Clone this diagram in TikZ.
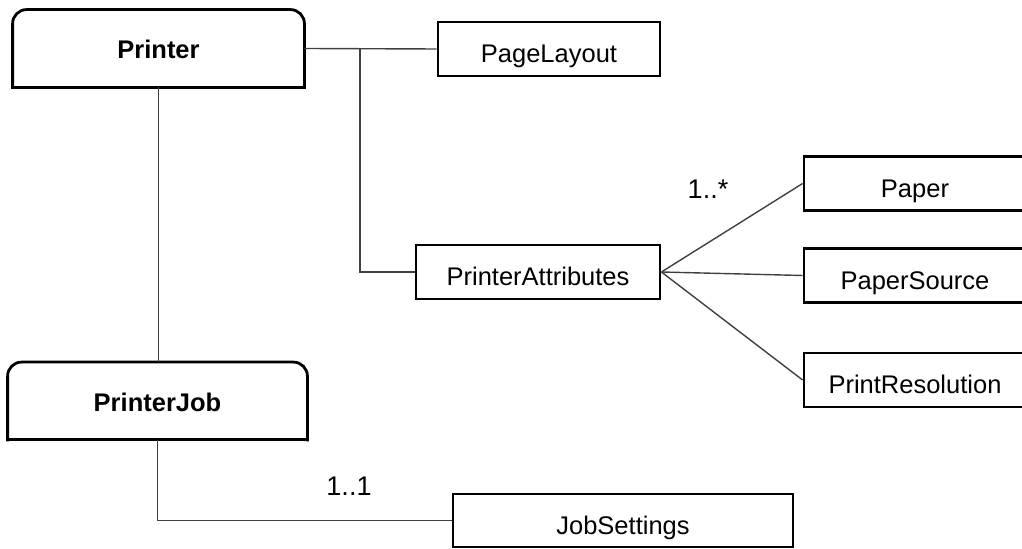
\documentclass[tikz,border=0pt]{standalone}
\usepackage{fontspec}
\setmainfont{Liberation Sans}
\usepackage{tikz}
\usetikzlibrary{positioning}
\tikzstyle{box}=[draw=black, line width=1.4pt, fill=white, inner sep=0pt,
        font=\fontsize{12.75}{15}\selectfont, minimum height=27pt,
        text height=13.6pt, text depth=0pt]
\tikzstyle{top}=[inner sep=0pt, font=\fontsize{12.75}{15}\selectfont\bfseries,
        minimum height=38.5pt, text height=10.5pt, text depth=0pt]
\tikzstyle{link}=[draw=black!75, line width=0.7pt]
\tikzstyle{mult}=[inner sep=0pt, font=\fontsize{13.5}{16}\selectfont]

\begin{document}
\begin{tikzpicture}[x=0.5pt, y=-0.5pt]
    \useasboundingbox (0,0) rectangle (1022,549);
    \clip (0,0) rectangle (1022,549);

        \node[top, minimum width=145.5pt] (1) at (158.5, 48.5) {Printer};
        \node[top, minimum width=149.5pt] (7) at (157.5, 401) {PrinterJob};

        \node[box, minimum width=111pt] (2) at (549, 49) {PageLayout};
        \node[box, minimum width=122pt] (3) at (538, 272) {PrinterAttributes};
        \node[box, minimum width=111pt] (4) at (915, 183.5) {Paper};
        \node[box, minimum width=111pt] (5) at (915, 275.5) {PaperSource};
        \node[box, minimum width=111pt] (6) at (915, 380) {PrintResolution};
        \node[box, minimum width=170pt, minimum height=26.5pt] (8) at (623, 520.5)
            {JobSettings};

        \node[mult] (m1) at (708, 189) {1..*};
        \node[mult] (m2) at (349, 486) {1..1};

        % class boxes with rounded top
        \draw[line width=1.4pt, line cap=rect] (1.south west) -- (1.south east);
        \draw[line width=1.4pt, line cap=rect, rounded corners=7pt] (1.south west) --
            (1.north west) -- (1.north east) -- (1.south east);
        \draw[line width=1.4pt, line cap=rect] (7.south west) -- (7.south east);
        \draw[line width=1.4pt, line cap=rect, rounded corners=7pt] (7.south west) --
            (7.north west) -- (7.north east) -- (7.south east);

        \coordinate (j) at (360, 48.5);
        \draw[link] (1.east) -- (2.west);
        \draw[link] (j) |- (3.west);
        \draw[link] (3.east) -- (4.west);
        \draw[link] (3.east) -- (5.west);
        \draw[link] (3.east) -- (6.west);
        \draw[link] (1.south) -- (1.south |- 7.north);
        \draw[link] (7.south) |- (8.west);

    \end{tikzpicture}
\end{document}
